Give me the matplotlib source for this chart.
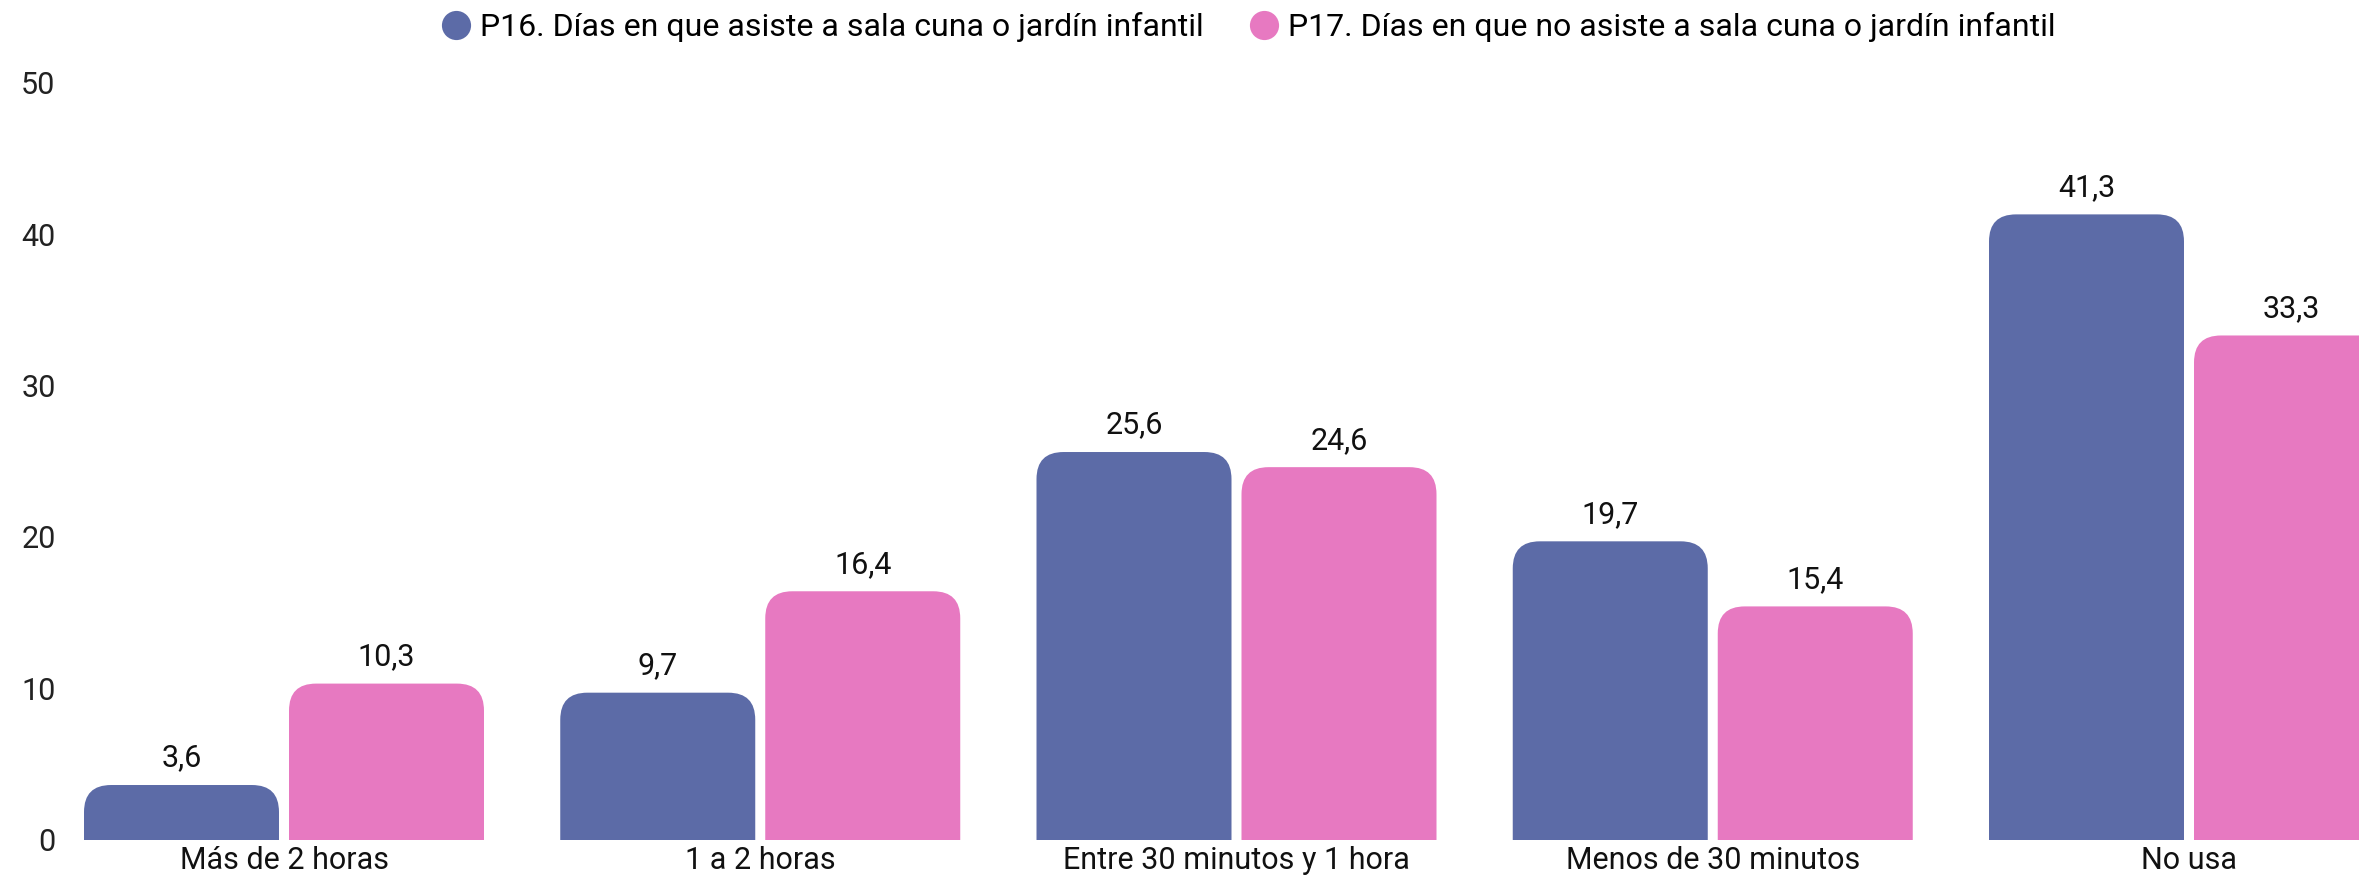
import matplotlib
matplotlib.use("Agg")
import matplotlib.pyplot as plt
import numpy as np
from matplotlib.patches import FancyBboxPatch

categories = ["Más de 2 horas", "1 a 2 horas", "Entre 30 minutos y 1 hora",
              "Menos de 30 minutos", "No usa"]
asiste = [3.6, 9.7, 25.6, 19.7, 41.3]
no_asiste = [10.3, 16.4, 24.6, 15.4, 33.3]
series_names = ["P16. Días en que asiste a sala cuna o jardín infantil",
                "P17. Días en que no asiste a sala cuna o jardín infantil"]
colors = ["#5C6BA7", "#E779C1"]
yticks = [0, 10, 20, 30, 40, 50]

plt.rcParams["font.family"] = ["Roboto", "DejaVu Sans"]

W, H = 2359, 881
fig = plt.figure(figsize=(W / 100, H / 100), dpi=100)

# axes geometry in pixels
left_px, right_px = 75, W
bottom_px, top_px = 839.5, 82.7
ax = fig.add_axes([left_px / W, (H - bottom_px) / H,
                   (right_px - left_px) / W, (bottom_px - top_px) / H])

group_px, center0_px = 476.25, 284
ax.set_xlim((left_px - center0_px) / group_px, (right_px - center0_px) / group_px)
ax.set_ylim(0, 50)

x = np.arange(len(categories))
width = 195 / group_px
offset = 102.5 / group_px

# rounded top corners, radius in pixels
r_px = 27
r_x = r_px / group_px
r_y = r_px / ((bottom_px - top_px) / 50)

for vals, off, col, name in [(asiste, -offset, colors[0], series_names[0]),
                             (no_asiste, offset, colors[1], series_names[1])]:
    bars = ax.bar(x + off, vals, width, color=col, label=name)
    for rect, v in zip(bars, vals):
        rect.set_visible(False)
        bx, bw, bh = rect.get_x(), rect.get_width(), rect.get_height()
        patch = FancyBboxPatch((bx, -r_y), bw, bh + r_y,
                               boxstyle=f"round,pad=0,rounding_size={r_x}",
                               mutation_aspect=r_y / r_x,
                               facecolor=col, edgecolor="none")
        ax.add_patch(patch)
        ax.annotate(f"{v:.1f}".replace(".", ","), (bx + bw / 2, bh),
                    xytext=(0, 9), textcoords="offset points",
                    ha="center", va="bottom", fontsize=22, color="#111111",
                    annotation_clip=False)

ax.set_xticks(x)
ax.set_xticklabels(categories, fontsize=22, color="#111111")
ax.set_yticks(yticks)
ax.set_yticklabels([str(t) for t in yticks], fontsize=22, color="#222222")
ax.tick_params(axis="both", length=0)
ax.tick_params(axis="x", pad=5)
ax.tick_params(axis="y", pad=14)
for s in ax.spines.values():
    s.set_visible(False)

handles = [plt.Line2D([], [], marker="o", linestyle="none", markersize=21,
                      markerfacecolor=c, markeredgecolor="none") for c in colors]
fig.legend(handles, series_names, loc="center", bbox_to_anchor=(0.529, 1 - 27 / H),
           ncol=2, frameon=False, fontsize=23, handletextpad=0.25,
           columnspacing=1.4, handlelength=1.0)

fig.savefig("out.png", dpi=100, facecolor="white")
